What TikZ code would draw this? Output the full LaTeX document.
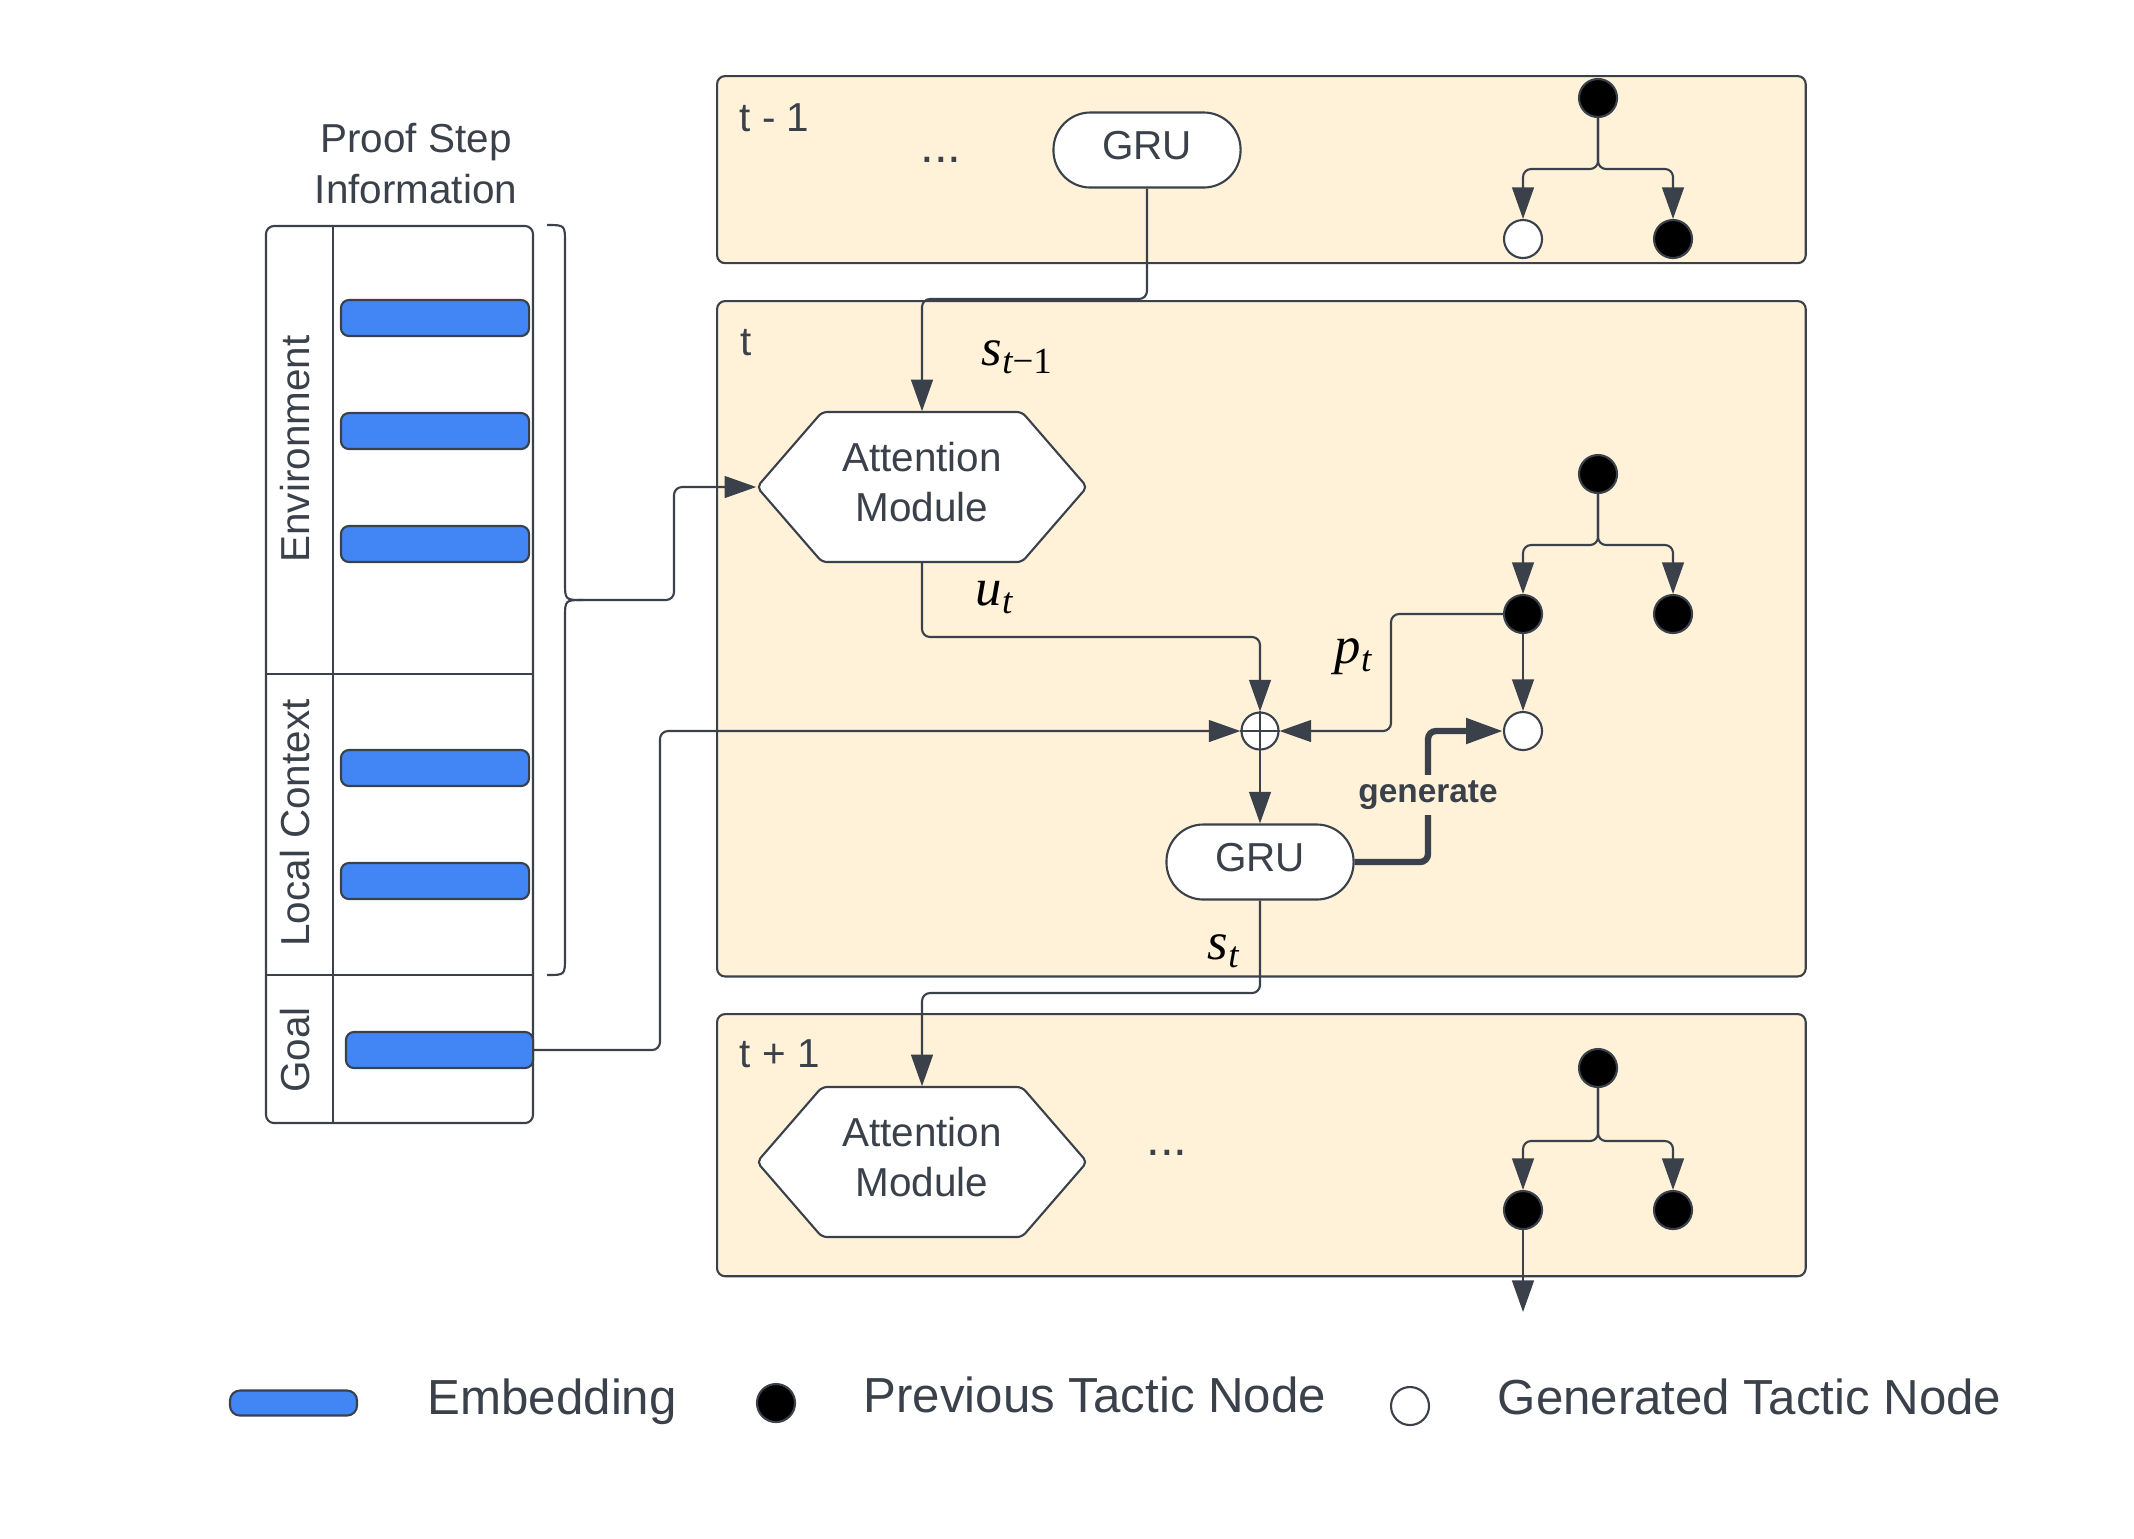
\documentclass[tikz,border=0pt]{standalone}
\usepackage{fontspec}
\setmainfont{Liberation Sans}
\newfontfamily\tms{Liberation Serif}
\usetikzlibrary{arrows.meta}
\definecolor{cream}{HTML}{FFF2D9}
\definecolor{ln}{HTML}{3A414A}
\definecolor{embblue}{HTML}{4285F4}
\newcommand\mysub[1]{\raisebox{-2.3pt}{\fontsize{10.5}{10.5}\selectfont #1}}
\tikzset{
 frame/.style={draw=ln, fill=cream, line width=0.6pt, rounded corners=0.08cm, anchor=north west, minimum width=10.88cm, inner sep=0},
 conn/.style={draw=ln, line width=0.6pt, rounded corners=0.08cm},
 arr/.style={conn, -{Triangle[length=9pt,width=6.2pt]}},
 bigarr/.style={draw=ln, line width=1.8pt, rounded corners=0.08cm, -{Triangle[length=10.5pt,width=7pt]}},
 lbl/.style={text=ln, font=\fontsize{11.5}{14}\selectfont, inner sep=0},
 grubox/.style={draw=ln, fill=white, line width=0.6pt, rounded corners=0.37cm, minimum width=1.87cm, minimum height=0.75cm, inner sep=0, text=ln, font=\fontsize{11.5}{14}\selectfont, text height=8.3pt, text depth=2.8pt},
 hexa/.style={draw=ln, fill=white, line width=0.6pt, rounded corners=0.05cm},
 hexnode/.style={minimum width=3.30cm, minimum height=1.50cm, inner sep=0},
 hextext/.style={inner sep=0, align=center, text=ln, font=\fontsize{11.5}{14}\selectfont},
 bnode/.style={circle, draw=ln, fill=black, line width=0.6pt, minimum size=0.38cm, inner sep=0},
 wnode/.style={bnode, fill=white},
 emb/.style={draw=ln, fill=embblue, line width=0.6pt, rounded corners=0.08cm, minimum width=1.88cm, minimum height=0.36cm, inner sep=0},
 mlab/.style={inner sep=0, anchor=base west, text=black, font=\tms\itshape\fontsize{15}{18}\selectfont},
 leg/.style={text=ln, font=\fontsize{14}{17}\selectfont, inner sep=0, anchor=base west},
}
\begin{document}
\begin{tikzpicture}[x=0.01cm, y=-0.01cm]
\useasboundingbox (0,0) rectangle (2134,1538);
% frames
\node[frame, minimum height=1.87cm] (f1) at (716,75) {};
\node[frame, minimum height=6.75cm] (f2) at (716,300) {};
\node[frame, minimum height=2.62cm] (f3) at (716,1013) {};
\node[lbl, anchor=base west] (l1) at (739,131) {t - 1};
\node[lbl, anchor=base west] (l2) at (740,355) {t};
\node[lbl, anchor=base west] (l3) at (739,1067) {t + 1};

% left panel
\draw[conn] (266,226) rectangle (533,1123);
\draw[conn] (333,226) -- (333,1123);
\draw[conn] (266,674) -- (533,674);
\draw[conn] (266,975) -- (533,975);
\node[lbl, anchor=base] (title1) at (416,152) {Proof Step};
\node[lbl, anchor=base] (title2) at (416,203) {Information};
\node[lbl, rotate=90] (env) at (295,449) {Environment};
\node[lbl, rotate=90] (loc) at (295,823) {Local Context};
\node[lbl, rotate=90] (goal) at (295,1050) {Goal};
\node[emb] (e1) at (435,318) {};
\node[emb] (e2) at (435,431) {};
\node[emb] (e3) at (435,544) {};
\node[emb] (e4) at (435,768) {};
\node[emb] (e5) at (435,881) {};
\node[emb, minimum width=1.87cm] (eg) at (439.5,1050) {};

% brace
\draw[ln, line width=0.6pt] (547,225) .. controls (565,225) .. (565,243) -- (565,582) .. controls (565,600) .. (583,600);
\draw[ln, line width=0.6pt] (547,975) .. controls (565,975) .. (565,957) -- (565,618) .. controls (565,600) .. (583,600);
\coordinate (bt) at (583,600);

% hexagons
\path[hexa] (757,487) -- (822,412) -- (1022,412) -- (1087,487) -- (1022,562) -- (822,562) -- cycle;
\node[hexnode] (att1) at (922,487) {};
\node[hextext] (att1t) at (922,482) {Attention\\Module};
\path[hexa] (757,1162) -- (822,1087) -- (1022,1087) -- (1087,1162) -- (1022,1237) -- (822,1237) -- cycle;
\node[hexnode] (att2) at (922,1162) {};
\node[hextext] (att2t) at (922,1157) {Attention\\Module};

% GRUs
\node[grubox] (gru1) at (1147,150) {GRU};
\node[grubox] (gru2) at (1260,862) {GRU};

% dots
\node[lbl, anchor=base, font=\fontsize{14}{16}\selectfont] (dots1) at (941,162) {...};
\node[lbl, anchor=base, font=\fontsize{14}{16}\selectfont] (dots2) at (1167,1155) {...};

% oplus
\node[circle, draw=ln, fill=white, line width=0.6pt, minimum size=0.37cm, inner sep=0] (op) at (1260,731) {};
\draw[conn] (op.north) -- (op.south) (op.west) -- (op.east);

% trees
\node[bnode] (r1) at (1598,98) {};
\node[wnode] (a1) at (1523,239) {};
\node[bnode] (b1) at (1673,239) {};
\node[bnode] (r2) at (1598,474) {};
\node[bnode] (a2) at (1523,614) {};
\node[bnode] (b2) at (1673,614) {};
\node[wnode] (gen) at (1523,731) {};
\node[bnode] (r3) at (1598,1068) {};
\node[bnode] (a3) at (1523,1210) {};
\node[bnode] (b3) at (1673,1210) {};

\draw[arr] (r1.south) -- (1598,169) -- (1523,169) -- (a1.north);
\draw[arr] (r1.south) -- (1598,169) -- (1673,169) -- (b1.north);
\draw[arr] (r2.south) -- (1598,545) -- (1523,545) -- (a2.north);
\draw[arr] (r2.south) -- (1598,545) -- (1673,545) -- (b2.north);
\draw[arr] (r3.south) -- (1598,1141) -- (1523,1141) -- (a3.north);
\draw[arr] (r3.south) -- (1598,1141) -- (1673,1141) -- (b3.north);
\coordinate (out) at (1523,1312);
\draw[arr] (a3.south) -- (out);

% connectors
\coordinate (y1) at (0,299);
\draw[arr] (gru1.south) -- (gru1.south |- y1) -- (att1.north |- y1) -- (att1.north);
\draw[arr] (bt) -- (674,600) -- (674,487) -- (att1.west);
\draw[arr] (att1.south) -- (922,637) -- (1260,637) -- (op.north);
\draw[arr] (eg.east) -- (660,1050) -- (660,731) -- (op.west);
\draw[arr] (a2.west) -- (1391,614) -- (1391,731) -- (op.east);
\draw[arr] (a2.south) -- (gen.north);
\draw[arr] (op.south) -- (gru2.north);
\draw[bigarr] (gru2.east) -- (1428,862) -- (1428,731) -- (gen.west);
\node[font=\bfseries\fontsize{9.5}{11}\selectfont, text=ln, fill=cream, inner xsep=0.5pt, inner ysep=1.5pt] (genlbl) at (1428,795) {generate};
\draw[arr] (gru2.south) -- (1260,993) -- (922,993) -- (att2.north);

% math labels
\node[mlab] (ls1) at (981,365) {s\mysub{t{\upshape −1}}};
\node[mlab] (lu) at (975,605) {u\mysub{t}};
\node[mlab] (lp) at (1334,663) {p\mysub{t}};
\node[mlab] (lst) at (1207,959) {s\mysub{t}};

% legend
\node[emb, minimum width=1.27cm, minimum height=0.25cm, rounded corners=0.1cm] (legemb) at (293.5,1403) {};
\node[leg] (legt1) at (427,1414) {Embedding};
\node[bnode] (legb) at (776,1403) {};
\node[leg] (legt2) at (863,1412) {Previous Tactic Node};
\node[wnode] (legw) at (1410,1406) {};
\node[leg] (legt3) at (1497,1414) {Generated Tactic Node};
\end{tikzpicture}
\end{document}
